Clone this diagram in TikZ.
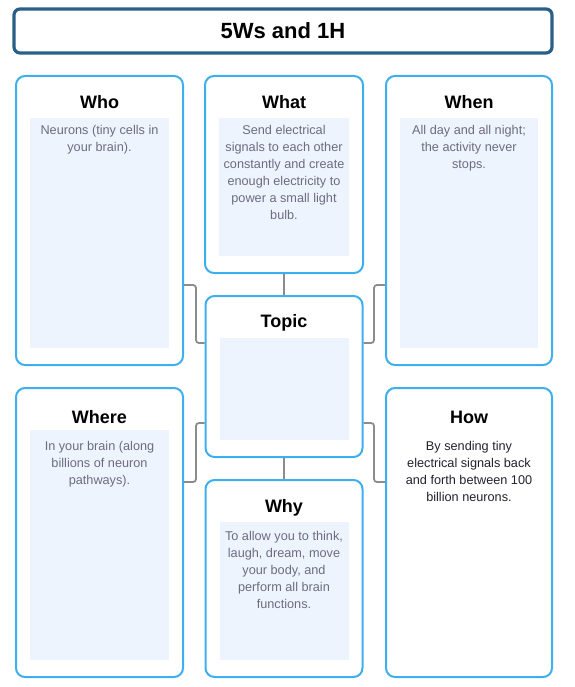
\documentclass[tikz,border=0pt]{standalone}
\usepackage{fontspec}
\setmainfont{Liberation Sans}
\usepackage{xcolor}
\usetikzlibrary{positioning,calc}

\definecolor{cardblue}{HTML}{3DAEEE}
\definecolor{titleblue}{HTML}{2A5F87}
\definecolor{panelfill}{HTML}{EEF4FD}
\definecolor{linkgray}{HTML}{8C8C8C}
\definecolor{notegray}{HTML}{6E6B80}
\definecolor{notedark}{HTML}{22222E}

\tikzset{
  card/.style={draw=cardblue, line width=2pt, rounded corners=9pt, fill=white, inner sep=0pt},
  cardhead/.style={font=\bfseries\fontsize{18}{20}\selectfont},
  note/.style={font=\fontsize{12.7}{17}\selectfont, text=notegray, align=center, anchor=north, inner sep=0pt},
  link/.style={draw=linkgray, line width=1.8pt, rounded corners=3pt},
}

\begin{document}
\begin{tikzpicture}[x=1pt, y=-1pt]
    \useasboundingbox (0,0) rectangle (574,687);
    % title bar
    \node[card, draw=titleblue, line width=3.2pt, rounded corners=6pt,
          minimum width=538pt, minimum height=44pt,
          font=\bfseries\fontsize{22}{24}\selectfont] (title) at (283,31) {5Ws and 1H};
    % cards, top row
    \node[card, minimum width=167pt, minimum height=289pt] (who) at (99.5,220.5) {};
    \node[card, minimum width=158pt, minimum height=197pt] (what) at (284,174.5) {};
    \node[card, minimum width=166pt, minimum height=289pt] (when) at (469,220.5) {};
    % centre card
    \node[card, minimum width=157pt, minimum height=161pt] (topic) at (284,376.5) {};
    % cards, bottom row
    \node[card, minimum width=167pt, minimum height=289pt] (where) at (99.5,532.5) {};
    \node[card, minimum width=166pt, minimum height=289pt] (how) at (469,532.5) {};
    \node[card, minimum width=157pt, minimum height=197pt] (why) at (284,578.5) {};
    % shaded panels inside the cards (not in How)
    \foreach \c in {who,what,when,topic,where,why}
        \fill[panelfill] ($(\c.north west)+(15,43)$) rectangle ($(\c.south east)+(-15,-18)$);
    % headings
    \foreach \c/\t/\d in {who/Who/27, what/What/27, when/When/27, topic/Topic/28,
                          where/Where/30, how/How/30, why/Why/29}
        \node[cardhead] (\c-head) at ($(\c.north)+(0,\d)$) {\t};
    % notes
    \node[note] (who-note) at ($(who.north)+(0,50)$) {Neurons (tiny cells in\\your brain).};
    \node[note] (what-note) at ($(what.north)+(0,50)$) {Send electrical\\signals to each other\\constantly and create\\enough electricity to\\power a small light\\bulb.};
    \node[note] (when-note) at ($(when.north)+(0,50)$) {All day and all night;\\the activity never\\stops.};
    \node[note] (where-note) at ($(where.north)+(0,54)$) {In your brain (along\\billions of neuron\\pathways).};
    \node[note, text=notedark] (how-note) at ($(how.north)+(0,54)$) {By sending tiny\\electrical signals back\\and forth between 100\\billion neurons.};
    \node[note] (why-note) at ($(why.north)+(0,52)$) {To allow you to think,\\laugh, dream, move\\your body, and\\perform all brain\\functions.};
    % connectors
    \coordinate (upA) at (0,285);
    \coordinate (upB) at (0,343);
    \coordinate (dnA) at (0,423);
    \coordinate (dnB) at (0,482);
    \draw[link] (what) -- (topic);
    \draw[link] (topic) -- (why);
    \draw[link] (who.east |- upA) -- ++(12,0) |- (topic.west |- upB);
    \draw[link] (when.west |- upA) -- ++(-11,0) |- (topic.east |- upB);
    \draw[link] (where.east |- dnB) -- ++(12,0) |- (topic.west |- dnA);
    \draw[link] (how.west |- dnB) -- ++(-11,0) |- (topic.east |- dnA);
\end{tikzpicture}
\end{document}
